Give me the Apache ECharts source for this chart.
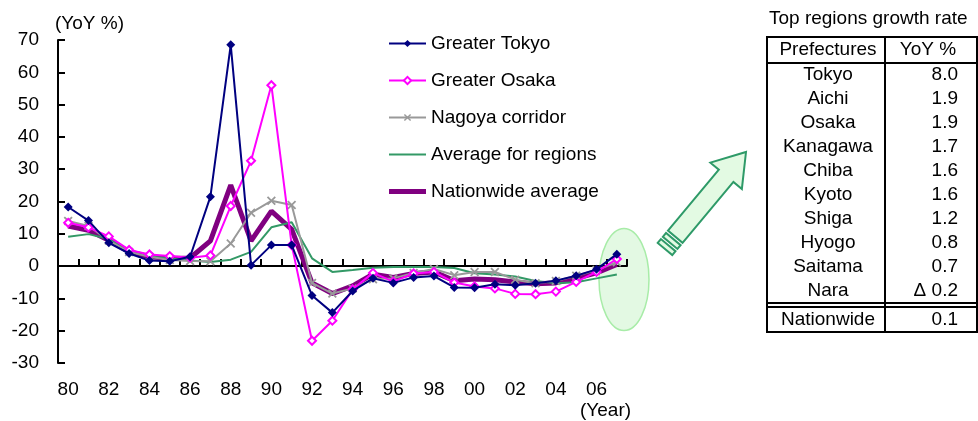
<!DOCTYPE html>
<html>
<head>
<meta charset="utf-8">
<script src="https://cdn.jsdelivr.net/npm/echarts@6/dist/echarts.min.js"></script>
<style>
  html, body { margin: 0; padding: 0; background: #fff; }
  #chart { width: 978px; height: 421px; }
</style>
</head>
<body>
<div id="chart"></div>
<script>
// Land price growth by region, year over year (%)
const years = [1980, 1981, 1982, 1983, 1984, 1985, 1986, 1987, 1988, 1989,
               1990, 1991, 1992, 1993, 1994, 1995, 1996, 1997, 1998, 1999,
               2000, 2001, 2002, 2003, 2004, 2005, 2006, 2007];

const greaterTokyo = [18.3, 14.1, 7.2, 3.9, 1.7, 1.5, 2.9, 21.5, 68.5, 0.3,
                      6.5, 6.5, -9.1, -14.4, -7.7, -3.8, -5.2, -3.5, -3.1, -6.6,
                      -6.7, -5.6, -5.9, -5.3, -4.5, -3.0, -1.0, 3.7];
const greaterOsaka = [13.4, 12.0, 9.2, 5.0, 3.6, 3.1, 2.6, 3.3, 18.6, 32.6,
                      56.0, 6.5, -23.1, -16.9, -7.2, -2.1, -4.8, -2.3, -1.8, -5.1,
                      -6.3, -6.9, -8.6, -8.7, -7.9, -4.9, -1.8, 2.2];
const nagoyaCorridor = [14.0, 12.4, 7.9, 4.4, 2.9, 1.9, 1.6, 1.5, 7.0, 16.5,
                        20.2, 18.9, -5.2, -8.5, -6.9, -4.1, -3.8, -2.1, -0.9, -2.8,
                        -1.8, -1.8, -4.2, -5.3, -4.6, -3.0, -1.2, 1.2];
const regionalAverage = [9.1, 9.9, 8.4, 4.5, 3.0, 2.4, 1.7, 1.3, 2.0, 4.4,
                         12.0, 13.6, 2.4, -1.8, -1.2, -0.5, -0.3, -0.3, -0.3, -0.6,
                         -2.2, -2.6, -3.2, -4.6, -5.3, -5.0, -3.8, -2.6];
const nationwideAverage = [12.4, 11.1, 8.0, 4.5, 2.9, 2.4, 2.5, 7.8, 25.1, 7.8,
                           17.0, 11.4, -5.2, -8.5, -6.1, -2.5, -3.5, -2.3, -1.8, -4.5,
                           -4.0, -4.2, -4.9, -5.5, -5.2, -3.8, -2.1, 0.5];

const seriesNames = ['Greater Tokyo', 'Greater Osaka', 'Nagoya corridor',
                     'Average for regions', 'Nationwide average'];

const yTicks = { min: -30, max: 70, interval: 10 };

// Side table: latest growth by prefecture
const tableTitle = 'Top regions growth rate';
const tableHeader = ['Prefectures', 'YoY %'];
const prefectures = ['Tokyo', 'Aichi', 'Osaka', 'Kanagawa', 'Chiba',
                     'Kyoto', 'Shiga', 'Hyogo', 'Saitama', 'Nara'];
const prefectureGrowth = [8.0, 1.9, 1.9, 1.7, 1.6, 1.6, 1.2, 0.8, 0.7, -0.2];
const nationwideLabel = 'Nationwide';
const nationwideGrowth = 0.1;

const FONT = '"Liberation Sans", Arial, sans-serif';
const FS = 19;
const LEG_W = 37, LEG_H = 9;

function fmtGrowth(v) {
  return v < 0 ? '\u0394 ' + Math.abs(v).toFixed(1) : v.toFixed(1);
}

// Fat arrow with a striped tail, built along the tail->tip direction
function arrowShapes(tail, tip) {
  const dx = tip[0] - tail[0], dy = tip[1] - tail[1];
  const L = Math.sqrt(dx * dx + dy * dy);
  const u = [dx / L, dy / L];
  const n = [-u[1], u[0]];
  const pt = (s, w) => [tail[0] + s * u[0] + w * n[0], tail[1] + s * u[1] + w * n[1]];
  const hw = 9.5, headW = 20.5, headL = 31;
  const band = (s0, s1) => [pt(s0, -hw), pt(s1, -hw), pt(s1, hw), pt(s0, hw)];
  return [
    band(0, 5),
    band(8, 13),
    [pt(16, -hw), pt(L - headL, -hw), pt(L - headL, -headW), pt(L, 0),
     pt(L - headL, headW), pt(L - headL, hw), pt(16, hw)]
  ];
}

// Legend icon for marker-less lines: a bar of the given thickness centred
// in the legend icon box (tiny corner points fix the bounding box)
function barIcon(thick) {
  const a = (LEG_H - thick) / 2, b = a + thick;
  return 'path://M0,0L0.01,0L0,0.01Z' +
         'M0,' + a + 'L' + LEG_W + ',' + a + 'L' + LEG_W + ',' + b + 'L0,' + b + 'Z' +
         'M' + LEG_W + ',' + LEG_H + 'L' + (LEG_W - 0.01) + ',' + LEG_H +
         'L' + LEG_W + ',' + (LEG_H - 0.01) + 'Z';
}

const chart = echarts.init(document.getElementById('chart'), null, { renderer: 'canvas' });

const graphics = [];

// Highlight ellipse around the latest year
graphics.push({
  type: 'ellipse', z: -10,
  shape: { cx: 624, cy: 279.5, rx: 25, ry: 51 },
  style: { fill: '#e3f9e3', stroke: '#a8eca8', lineWidth: 1.5 }
});

arrowShapes([665, 249], [746, 152]).forEach(poly => {
  graphics.push({
    type: 'polygon', z: 10,
    shape: { points: poly },
    style: { fill: '#e3fae3', stroke: '#2e9a68', lineWidth: 2 }
  });
});

// Axis captions
graphics.push({
  type: 'text', left: 55, top: 14,
  style: { text: '(YoY %)', font: FS + 'px ' + FONT, fill: '#000' }
});
graphics.push({
  type: 'text', left: 580, top: 401,
  style: { text: '(Year)', font: FS + 'px ' + FONT, fill: '#000' }
});

// Table
const tX0 = 767, tX1 = 977, tDiv = 885, tTop = 37, tHead = 63,
      rowY0 = 75, rowStep = 24, dbl1 = 303, dbl2 = 307, natY = 320, tBot = 332;
const col1C = 828, col2R = 958, col2HeadC = 928;

graphics.push({
  type: 'text', left: 769, top: 9,
  style: { text: tableTitle, font: FS + 'px ' + FONT, fill: '#000' }
});
graphics.push({
  type: 'rect', shape: { x: tX0, y: tTop, width: tX1 - tX0, height: tBot - tTop },
  style: { fill: 'none', stroke: '#000', lineWidth: 2 }
});
[[tDiv, tTop, tDiv, tBot], [tX0, tHead, tX1, tHead],
 [tX0, dbl1, tX1, dbl1], [tX0, dbl2, tX1, dbl2]].forEach(l => {
  graphics.push({
    type: 'line', shape: { x1: l[0], y1: l[1], x2: l[2], y2: l[3] },
    style: { stroke: '#000', lineWidth: 2 }
  });
});
function cellText(txt, x, y, align) {
  graphics.push({
    type: 'text', x: x, y: y,
    style: { text: txt, font: FS + 'px ' + FONT, fill: '#000',
             textAlign: align, textVerticalAlign: 'middle' }
  });
}
cellText(tableHeader[0], col1C, 50, 'center');
cellText(tableHeader[1], col2HeadC, 50, 'center');
prefectures.forEach((p, i) => {
  const y = rowY0 + i * rowStep;
  cellText(p, col1C, y, 'center');
  cellText(fmtGrowth(prefectureGrowth[i]), col2R, y, 'right');
});
cellText(nationwideLabel, col1C, natY, 'center');
cellText(fmtGrowth(nationwideGrowth), col2R, natY, 'right');

const crossSymbol = 'path://M0,1.4L1.4,0L5,3.6L8.6,0L10,1.4L6.4,5L10,8.6L8.6,10L5,6.4L1.4,10L0,8.6L3.6,5Z';

const option = {
  animation: false,
  textStyle: { fontFamily: FONT },
  grid: { left: 58, right: 351, top: 40, bottom: 58, containLabel: false },
  legend: {
    orient: 'vertical', left: 388, top: 34, padding: 0,
    itemWidth: LEG_W, itemHeight: LEG_H, itemGap: 18,
    data: [
      { name: seriesNames[0] },
      { name: seriesNames[1] },
      { name: seriesNames[2] },
      { name: seriesNames[3], icon: barIcon(2) },
      { name: seriesNames[4], icon: barIcon(5) }
    ],
    textStyle: { fontSize: FS, color: '#000', fontFamily: FONT },
    selectedMode: false
  },
  xAxis: [
    {
      type: 'category', data: years, boundaryGap: true,
      axisLine: { show: true, onZero: true, lineStyle: { color: '#000', width: 2 } },
      axisTick: { show: true, inside: true, interval: 0, length: 7,
                  lineStyle: { color: '#000', width: 2 } },
      axisLabel: { show: false }
    },
    {
      type: 'category', data: years, boundaryGap: true, position: 'bottom',
      axisLine: { show: false, onZero: false },
      axisTick: { show: false },
      axisLabel: {
        interval: 1, margin: 17, fontSize: FS, color: '#000', fontFamily: FONT,
        formatter: v => String(v).slice(2)
      }
    }
  ],
  yAxis: {
    type: 'value', min: yTicks.min, max: yTicks.max, interval: yTicks.interval,
    axisLine: { show: true, lineStyle: { color: '#000', width: 2 } },
    axisTick: { show: true, inside: true, length: 7, lineStyle: { color: '#000', width: 2 } },
    splitLine: { show: false },
    axisLabel: { margin: 19, fontSize: FS, color: '#000', fontFamily: FONT }
  },
  series: [
    {
      name: seriesNames[0], type: 'line', data: greaterTokyo, z: 6,
      color: '#000080', symbol: 'diamond', symbolSize: 9,
      lineStyle: { width: 2, color: '#000080' }
    },
    {
      name: seriesNames[1], type: 'line', data: greaterOsaka, z: 5,
      color: '#ff00ff', symbol: 'emptyDiamond', symbolSize: 8,
      itemStyle: { borderWidth: 2 },
      lineStyle: { width: 2, color: '#ff00ff' }
    },
    {
      name: seriesNames[2], type: 'line', data: nagoyaCorridor, z: 4,
      color: '#999999', symbol: crossSymbol, symbolSize: 9,
      lineStyle: { width: 2, color: '#999999' }
    },
    {
      name: seriesNames[3], type: 'line', data: regionalAverage, z: 3,
      color: '#339966', symbol: 'none', showSymbol: false,
      lineStyle: { width: 2, color: '#339966' }
    },
    {
      name: seriesNames[4], type: 'line', data: nationwideAverage, z: 2,
      color: '#800080', symbol: 'none', showSymbol: false,
      lineStyle: { width: 5, color: '#800080' }
    }
  ],
  graphic: graphics
};

chart.setOption(option);
</script>
</body>
</html>
